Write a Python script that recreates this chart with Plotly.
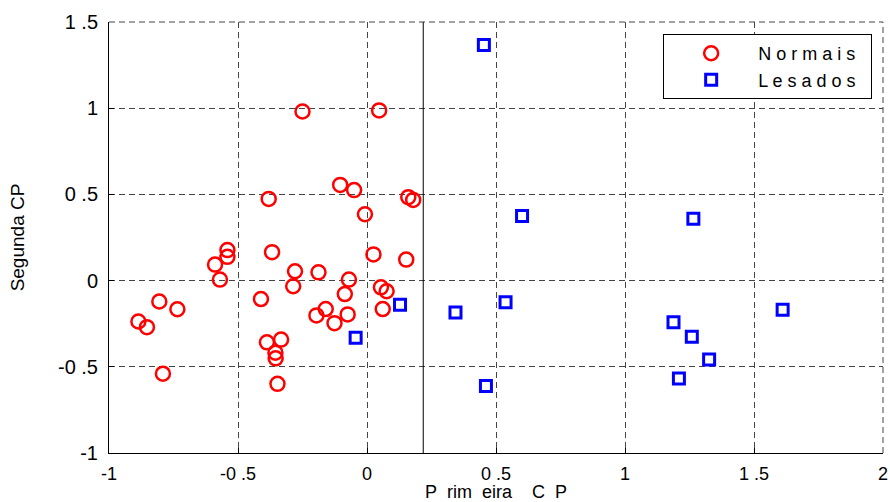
import plotly.graph_objects as go

# Normais (red circles)
normais_x = [-0.250, 0.047, -0.104, -0.050, -0.381, 0.160, 0.179, -0.008, -0.541, -0.541,
             -0.589, -0.570, -0.368, 0.025, 0.152, -0.279, -0.188, -0.070, -0.286, -0.086,
             0.054, 0.076, -0.411, 0.061, -0.160, -0.196, -0.075, -0.126, -0.388, -0.333,
             -0.355, -0.354, -0.347, -0.805, -0.735, -0.886, -0.853, -0.791]
normais_y = [0.981, 0.987, 0.555, 0.525, 0.474, 0.484, 0.468, 0.385, 0.177, 0.138,
             0.093, 0.006, 0.165, 0.152, 0.122, 0.054, 0.048, 0.006, -0.033, -0.078,
             -0.039, -0.062, -0.107, -0.165, -0.165, -0.202, -0.196, -0.247, -0.358, -0.342,
             -0.418, -0.451, -0.599, -0.121, -0.166, -0.237, -0.270, -0.540]

# Lesados (blue squares)
lesados_x = [0.453, 0.601, 0.128, -0.044, 0.343, 0.537, 0.461, 1.265, 1.188, 1.259, 1.326, 1.209, 1.611]
lesados_y = [1.366, 0.375, -0.140, -0.331, -0.185, -0.125, -0.611, 0.359, -0.241, -0.325, -0.457, -0.568, -0.169]

# separating line position
threshold_x = 0.218

x_tickvals = [-1, -0.5, 0, 0.5, 1, 1.5, 2]
x_ticktext = ["-1", "-0 .5", "0", "0 .5", "1", "1 .5", "2"]
y_tickvals = [-1, -0.5, 0, 0.5, 1, 1.5]
y_ticktext = ["-1", "-0 .5", "0", "0 .5", "1", "1 .5"]

NB = "\u00a0"
x_title = f"P{NB*2}rim{NB*2}eira{NB*4}C{NB*2}P"
y_title = "Segunda CP"
legend_names = [f"N o r m a i s{NB*2}", f"L e s a d o s{NB*2}"]

FONT = "Liberation Sans, Arial, sans-serif"

fig = go.Figure()
fig.add_trace(go.Scatter(
    x=normais_x, y=normais_y, mode="markers", name=legend_names[0],
    marker=dict(symbol="circle-open", size=14, color="#ff0000", line=dict(width=2.5, color="#ff0000")),
))
fig.add_trace(go.Scatter(
    x=lesados_x, y=lesados_y, mode="markers", name=legend_names[1],
    marker=dict(symbol="square-open", size=11, color="#0000ff", line=dict(width=3, color="#0000ff")),
))

grid_style = dict(showgrid=True, gridcolor="#444444", gridwidth=1, griddash="6px,4px", zeroline=False)

fig.update_xaxes(
    range=[-1, 2], tickvals=x_tickvals, ticktext=x_ticktext, automargin=False,
    showline=True, linecolor="black", linewidth=1, mirror=False,
    ticks="inside", ticklen=5, tickcolor="black", ticklabelstandoff=4,
    tickfont=dict(family=FONT, size=18, color="black"),
    title=dict(text=x_title, font=dict(family=FONT, size=18, color="black"), standoff=3),
    **grid_style,
)
fig.update_yaxes(
    range=[-1, 1.5], tickvals=y_tickvals, ticktext=y_ticktext, automargin=False,
    showline=True, linecolor="black", linewidth=1, mirror=False,
    ticks="inside", ticklen=5, tickcolor="black", ticklabelstandoff=6,
    tickfont=dict(family=FONT, size=20, color="black"),
    title=dict(text=y_title, font=dict(family=FONT, size=19, color="black"), standoff=28),
    **grid_style,
)

# dashed top/right frame edges (grid lines at range limits)
fig.add_shape(type="line", xref="paper", yref="paper", x0=0, x1=1, y0=1, y1=1,
              line=dict(color="#444444", width=1, dash="6px,4px"))
fig.add_shape(type="line", xref="paper", yref="paper", x0=1, x1=1, y0=0, y1=1,
              line=dict(color="#444444", width=1, dash="6px,4px"))
# solid vertical separator
fig.add_shape(type="line", xref="x", yref="paper", x0=threshold_x, x1=threshold_x, y0=0, y1=1,
              line=dict(color="black", width=1))

fig.update_layout(
    width=890, height=502,
    margin=dict(l=109, r=7, t=22, b=49),
    plot_bgcolor="white", paper_bgcolor="white",
    font=dict(family=FONT, color="black"),
    showlegend=True,
    legend=dict(
        x=0.986, y=0.972, xanchor="right", yanchor="top",
        bgcolor="white", bordercolor="black", borderwidth=1,
        font=dict(family=FONT, size=18, color="black"),
        itemwidth=84,
    ),
)

fig.write_html("out.html")
